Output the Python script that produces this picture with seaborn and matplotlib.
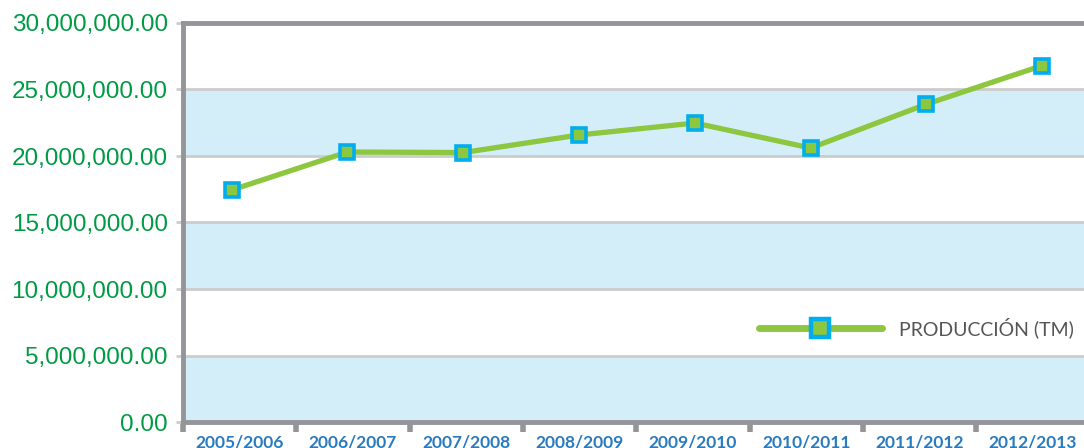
import numpy as np
import pandas as pd
import seaborn as sns
import matplotlib.pyplot as plt
from matplotlib.lines import Line2D
from matplotlib.ticker import FuncFormatter

campanas = ["2005/2006", "2006/2007", "2007/2008", "2008/2009",
            "2009/2010", "2010/2011", "2011/2012", "2012/2013"]
produccion = [17440000, 20300000, 20260000, 21580000,
              22480000, 20600000, 23900000, 26800000]
serie = "PRODUCCIÓN (TM)"

df = pd.DataFrame({"x": np.arange(len(campanas)), "y": produccion})

sns.set_style("white")
plt.rcParams["font.family"] = ["Liberation Sans", "DejaVu Sans"]

fig = plt.figure(figsize=(10.84, 4.48), dpi=100)
ax = fig.add_axes([183 / 1084, 26 / 448, 901 / 1084, 399 / 448])

# franjas azules
for lo in [0, 10e6, 20e6]:
    ax.axhspan(lo, lo + 5e6, color="#d4eef9", zorder=0, lw=0)
for yv in [5e6, 10e6, 15e6, 20e6, 25e6]:
    ax.axhline(yv, color="#cccccc", lw=2, zorder=1)

sns.lineplot(data=df, x="x", y="y", ax=ax, color="#8dc63f", lw=3.8,
             marker="s", markersize=10, markerfacecolor="#8dc63f",
             markeredgecolor="#00aeef", markeredgewidth=2.6, zorder=3)

ax.set_xlim(-0.42, 7.36)
ax.set_ylim(0, 30e6)
ax.set_yticks(np.arange(0, 30e6 + 1, 5e6))
ax.yaxis.set_major_formatter(FuncFormatter(lambda v, p: f"{v:,.2f}"))
ax.tick_params(axis="y", colors="#cccccc", length=5, width=2, labelsize=17.5,
               labelcolor="#009a44", pad=6, left=True)

limites = np.linspace(-0.42, 6.43, 8)
centros = np.append((limites[:-1] + limites[1:]) / 2, limites[-1] + (limites[1] - limites[0]) / 2)
ax.set_xticks(limites, minor=True)
ax.set_xticks(centros)
ax.set_xticklabels(campanas, fontfamily=["Lato", "DejaVu Sans"], fontweight="bold",
                   fontsize=12.5, color="#2a7abf")
ax.tick_params(axis="x", which="major", length=0, pad=9)
ax.tick_params(axis="x", which="minor", length=7, width=4, color="#939598", bottom=True)
ax.set_xlabel("")
ax.set_ylabel("")

for s in ["left", "bottom", "top"]:
    ax.spines[s].set_color("#939598")
    ax.spines[s].set_linewidth(3.5)
ax.spines["right"].set_visible(False)

handle = Line2D([], [], color="#8dc63f", lw=5, marker="s", markersize=13,
                markerfacecolor="#8dc63f", markeredgecolor="#00aeef", markeredgewidth=3.2)
leg = ax.legend([handle], [serie], loc="center left", bbox_to_anchor=(0.62, 0.236),
                frameon=False, handlelength=6.3, handletextpad=0.9,
                prop={"family": ["Lato", "DejaVu Sans"], "size": 14})
for t in leg.get_texts():
    t.set_color("#555555")

fig.savefig("out.png", dpi=100)
